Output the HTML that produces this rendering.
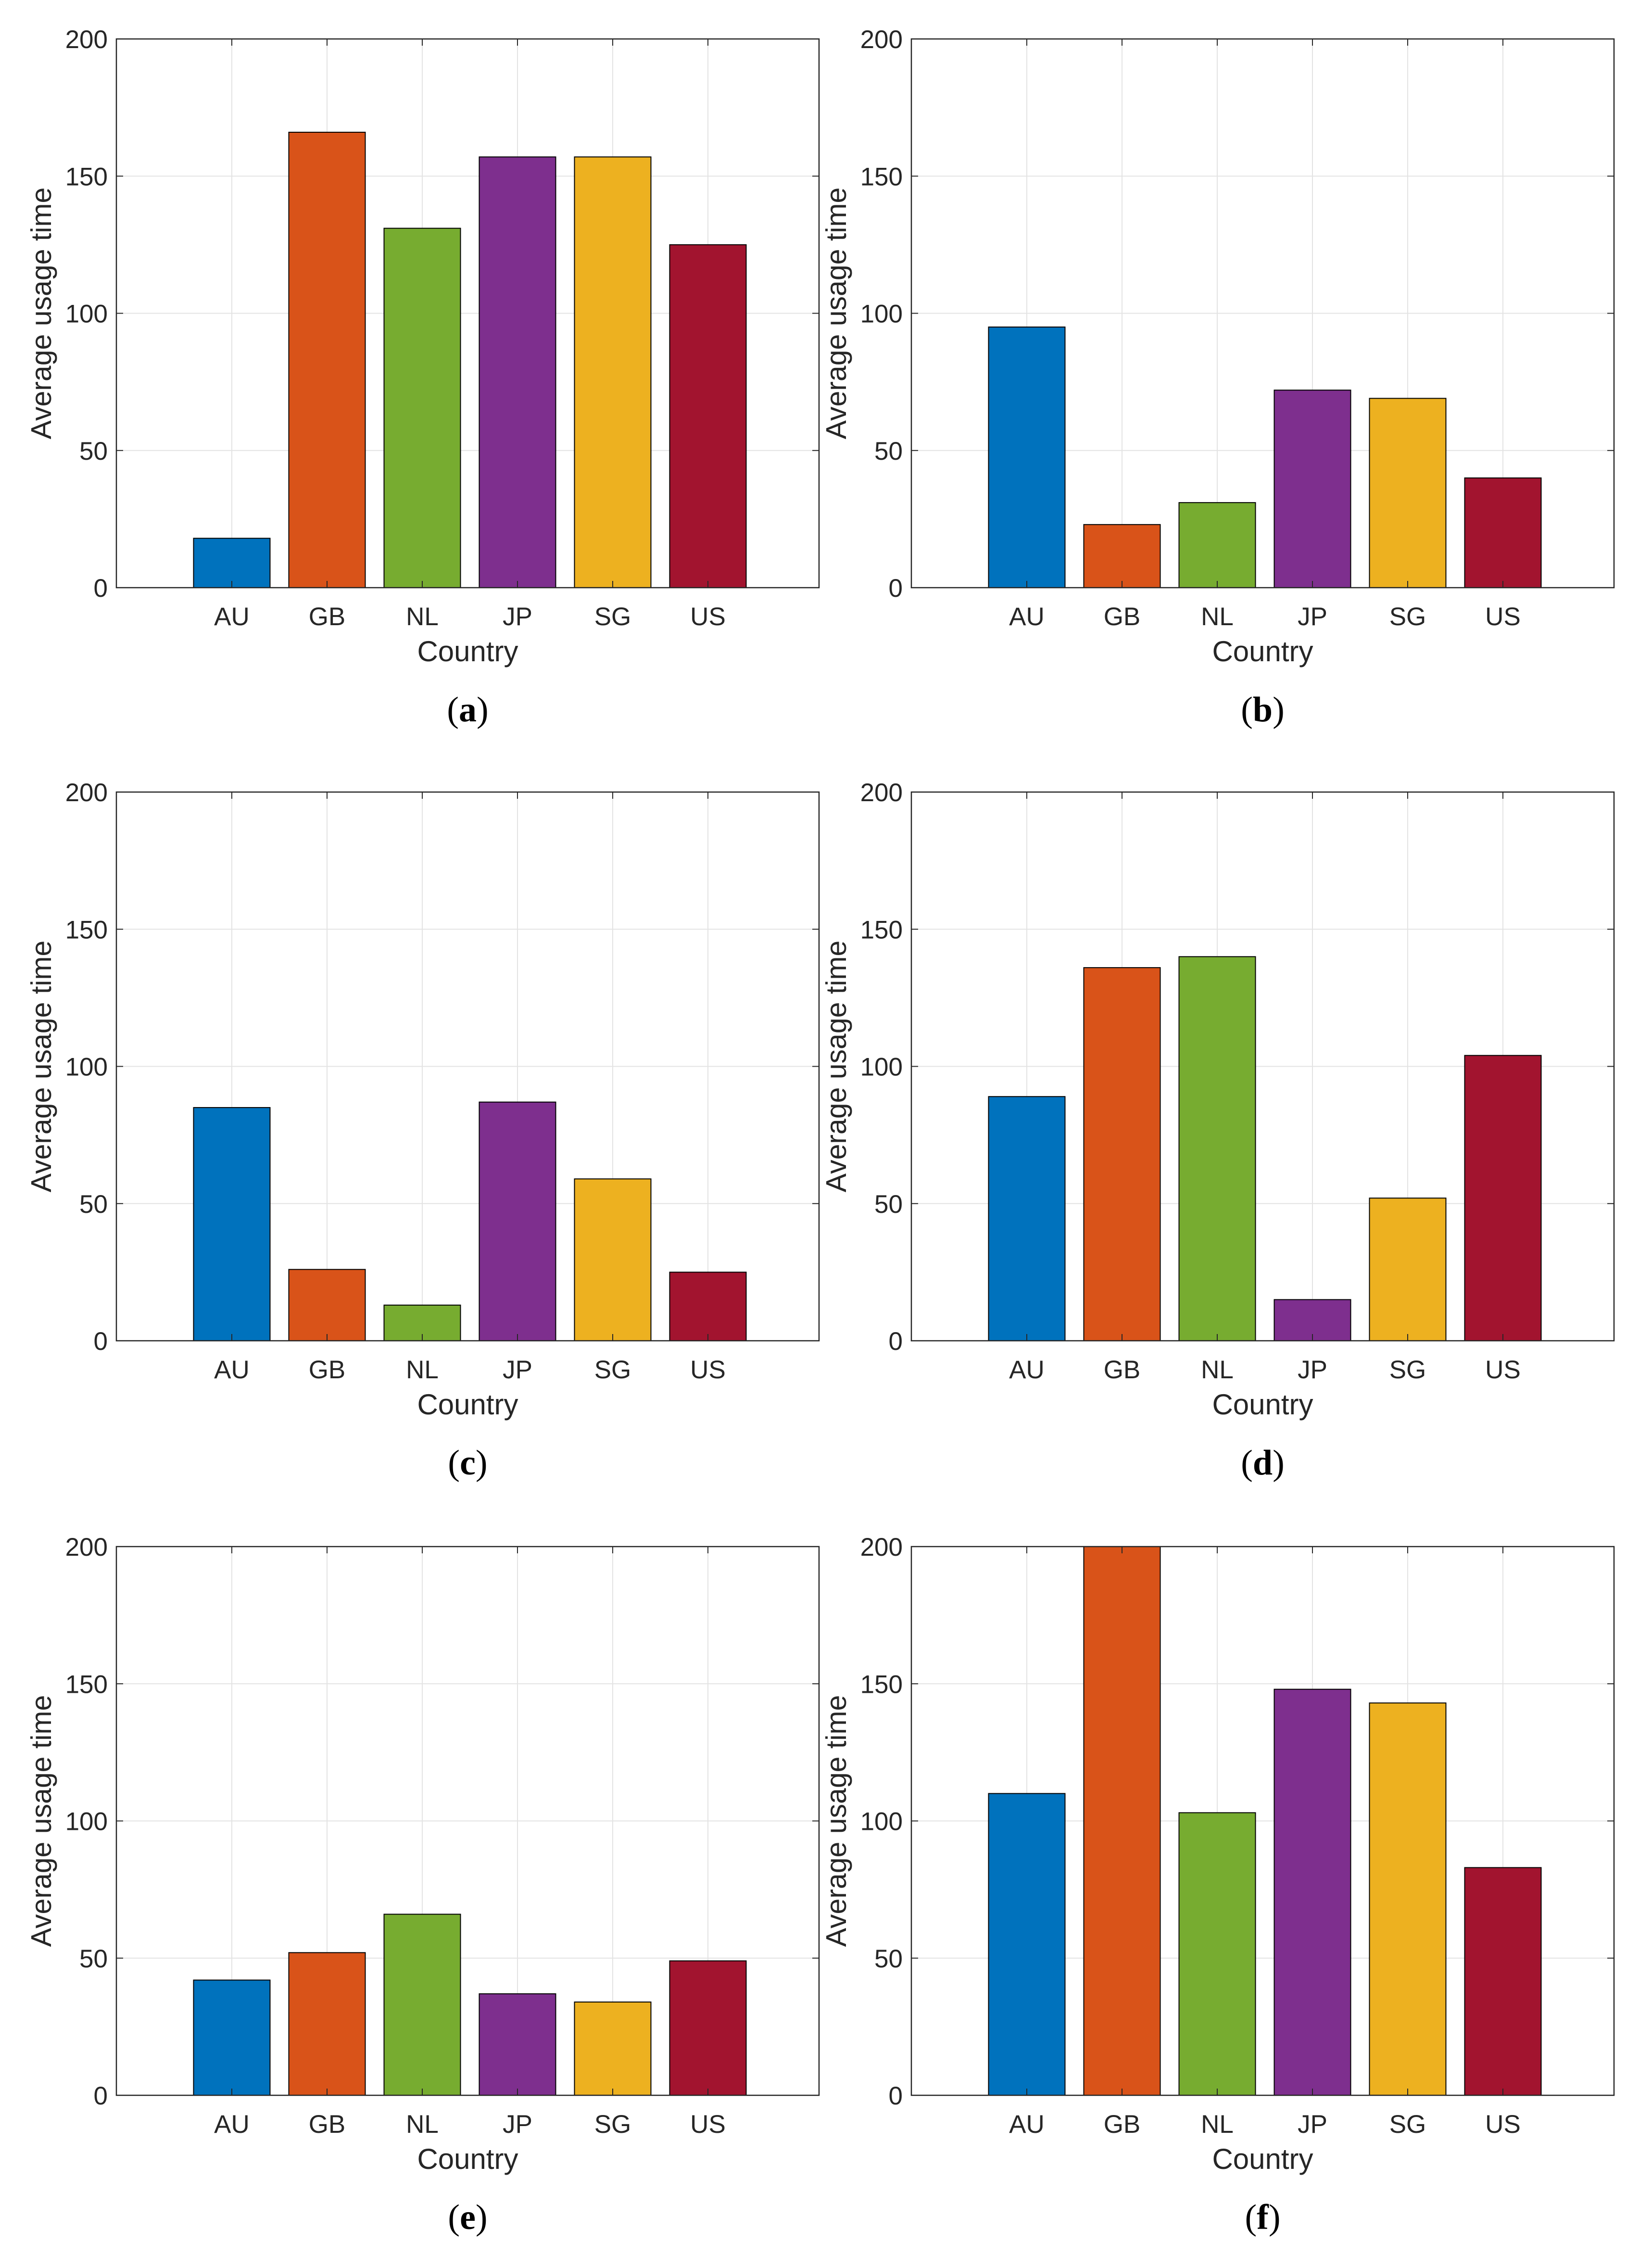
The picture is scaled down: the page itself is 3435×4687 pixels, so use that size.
<!DOCTYPE html>
<html><head><meta charset="utf-8"><style>
html,body{margin:0;padding:0;background:#fff}
svg{display:block}
</style></head><body>
<svg id="fig" width="3435" height="4687" viewBox="0 0 3435 4687" xmlns="http://www.w3.org/2000/svg"></svg>
<script>
const categories = ["AU","GB","NL","JP","SG","US"];
const valuesA = [18,166,131,157,157,125];
const valuesB = [95,23,31,72,69,40];
const valuesC = [85,26,13,87,59,25];
const valuesD = [89,136,140,15,52,104];
const valuesE = [42,52,66,37,34,49];
const valuesF = [110,200,103,148,143,83];
const yTicks = [0,50,100,150,200];
const panelLabels = ["a","b","c","d","e","f"];
const colors = ["#0072BD","#D95319","#77AC30","#7E2F8E","#EDB120","#A2142F"];

const allValues = [valuesA,valuesB,valuesC,valuesD,valuesE,valuesF];
const NS = "http://www.w3.org/2000/svg";
const svg = document.getElementById("fig");
function mk(tag, attrs, parent){const e=document.createElementNS(NS,tag);for(const k in attrs)e.setAttribute(k,attrs[k]);(parent||svg).appendChild(e);return e;}

const colLeft=[242,1895], axW=1461;
const rowTop=[81,1647,3216], axH=1141;
const yMax=200;
const tickStep=198, firstOff=240, barW=159;

allValues.forEach((vals,i)=>{
  const L=colLeft[i%2], T=rowTop[Math.floor(i/2)], B=T+axH, R=L+axW;
  const g=mk("g",{});
  
  
  const yS=v=>B-v/yMax*axH;
  const xS=k=>L+firstOff+k*tickStep;
  yTicks.forEach(t=>{
    const ln=mk("line",{x1:L,x2:R,y1:yS(t),y2:yS(t),stroke:"#e3e3e3","stroke-width":2},g);
    
    
  });
  categories.forEach((c,k)=>{
    const ln=mk("line",{x1:xS(k),x2:xS(k),y1:T,y2:B,stroke:"#e3e3e3","stroke-width":2},g);
    
    
  });
  vals.forEach((v,k)=>{
    const y=yS(Math.min(v,yMax));
    const r=mk("rect",{x:xS(k)-barW/2,y:y,width:barW,height:B-y,fill:colors[k],stroke:"#000","stroke-width":2},g);
    
    
  });
  yTicks.forEach(t=>{
    mk("line",{x1:L,x2:L+14,y1:yS(t),y2:yS(t),stroke:"#262626","stroke-width":2},g);
    mk("line",{x1:R,x2:R-14,y1:yS(t),y2:yS(t),stroke:"#262626","stroke-width":2},g);
    const tx=mk("text",{x:L-18,y:yS(t)+19,"text-anchor":"end","font-family":"Liberation Sans, sans-serif","font-size":53,fill:"#262626"},g);
    tx.textContent=t;
    
    
  });
  categories.forEach((c,k)=>{
    mk("line",{x1:xS(k),x2:xS(k),y1:B,y2:B-14,stroke:"#262626","stroke-width":2},g);
    mk("line",{x1:xS(k),x2:xS(k),y1:T,y2:T+14,stroke:"#262626","stroke-width":2},g);
    const tx=mk("text",{x:xS(k),y:B+78,"text-anchor":"middle","font-family":"Liberation Sans, sans-serif","font-size":53,fill:"#262626"},g);
    tx.textContent=c;
    
    
  });
  const bx=mk("rect",{x:L,y:T,width:axW,height:axH,fill:"none",stroke:"#262626","stroke-width":2.5},g);
  
  
  const xl=mk("text",{x:L+axW/2,y:B+153,"text-anchor":"middle","font-family":"Liberation Sans, sans-serif","font-size":60,fill:"#262626"},g);
  xl.textContent="Country";
  
  
  const cy=T+axH/2, yx=L-136;
  const yl=mk("text",{x:yx,y:cy,"text-anchor":"middle",transform:`rotate(-90 ${yx} ${cy})`,"font-family":"Liberation Sans, sans-serif","font-size":59,fill:"#262626"},g);
  yl.textContent="Average usage time";
  
  
  const cap=mk("text",{x:L+axW/2,y:B+278,"text-anchor":"middle","font-family":"Liberation Serif, serif","font-size":74,fill:"#000"},g);
  cap.innerHTML='(<tspan font-weight="bold">'+panelLabels[i]+'</tspan>)';
  
  
});
</script>
</body></html>
